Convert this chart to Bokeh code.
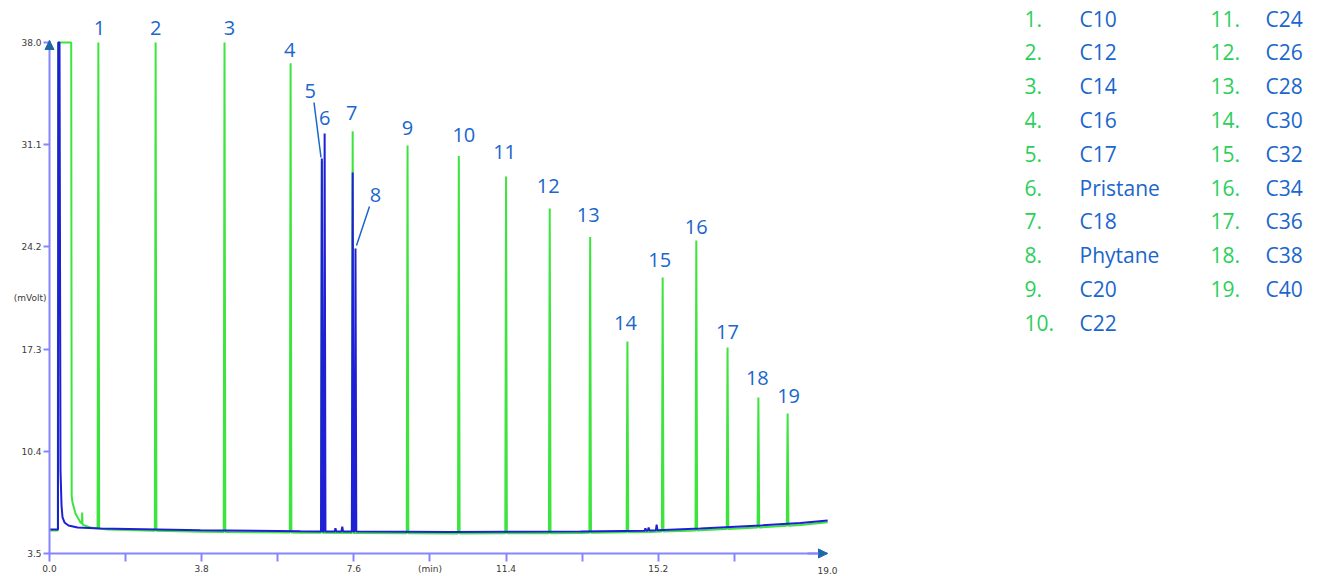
import numpy as np
from bokeh.plotting import figure
from bokeh.models import (ColumnDataSource, FixedTicker, Label, LabelSet,
                          Arrow, NormalHead, Range1d)
from bokeh.core.properties import value
from bokeh.embed import file_html
from bokeh.resources import INLINE

# ------------------------------------------------------------------ data
peak_numbers = [str(i) for i in range(1, 20)]
compound_names = ["C10", "C12", "C14", "C16", "C17", "Pristane", "C18", "Phytane",
                  "C20", "C22", "C24", "C26", "C28", "C30", "C32", "C34", "C36",
                  "C38", "C40"]

x_ticks = [0, 1.9, 3.8, 5.7, 7.6, 9.5, 11.4, 13.3, 15.2, 17.1]
x_tick_labels = ["0.0", "", "3.8", "", "7.6", "(min)", "11.4", "", "15.2", ""]
x_end_label = "19.0"
y_ticks = [3.5, 10.4, 17.3, 24.2, 31.1, 38.0]
y_tick_labels = ["3.5", "10.4", "17.3", "24.2", "31.1", "38.0"]
y_title = "(mVolt)"

# green trace: n-alkane standard
std_solvent_time = [0.0, 0.207, 0.215, 0.542, 0.554, 0.574, 0.649, 0.774, 0.81, 0.816, 0.824, 1.02]
std_solvent_signal = [5.05, 5.05, 38.0, 38.0, 7.41, 6.94, 6.20, 5.59, 5.52, 6.26, 5.45, 5.25]
std_base_time = [1.45, 3.77, 6.27, 10.0, 13.26, 15.0, 16.25, 17.75, 18.75, 19.43]
std_base_signal = [5.12, 4.97, 4.90, 4.85, 4.88, 4.95, 5.06, 5.26, 5.42, 5.60]
std_peak_no = [1, 2, 3, 4, 5, 7, 9, 10, 11, 12, 13, 14, 15, 16, 17, 18, 19]
std_peak_time = [1.22, 2.65, 4.37, 6.02, 6.80, 7.57, 8.94, 10.22, 11.40, 12.49,
                 13.50, 14.43, 15.31, 16.15, 16.93, 17.70, 18.43]
std_peak_height = [38.0, 38.0, 38.0, 36.6, 30.0, 32.0, 31.05, 30.33, 28.96, 26.79,
                   24.87, 17.81, 22.13, 24.63, 17.41, 14.03, 12.95]
std_peak_base = [5.19, 5.04, 4.95, 4.91, 4.89, 4.88, 4.86, 4.85, 4.86, 4.87,
                 4.89, 4.93, 4.98, 5.05, 5.15, 5.25, 5.37]

# blue trace: sample
smp_solvent_time = [0.0, 0.212, 0.22, 0.25, 0.275, 0.30, 0.325, 0.375, 0.474, 0.70, 1.27]
smp_solvent_signal = [5.12, 5.12, 38.0, 38.0, 9.1, 6.74, 5.93, 5.59, 5.39, 5.25, 5.18]
smp_base_time = [3.77, 6.27, 10.0, 13.26, 15.0, 16.25, 17.75, 18.75, 19.43]
smp_base_signal = [5.07, 5.00, 4.95, 4.98, 5.05, 5.18, 5.39, 5.56, 5.72]
smp_peak_no = [5, 6, 7, 8]
smp_peak_time = [6.80, 6.87, 7.57, 7.64]
smp_peak_height = [30.17, 31.86, 29.22, 24.09]
smp_peak_base = [4.99, 4.99, 4.98, 4.98]
smp_minor_time = [7.14, 7.31, 14.88, 14.96, 15.16]
smp_minor_height = [5.2, 5.3, 5.2, 5.25, 5.45]
smp_minor_base = [4.98, 4.98, 5.04, 5.05, 5.06]

# ------------------------------------------------------------------ layout / style
W, H = 1320, 576
PX_X0, PX_Y38 = 49.0, 42.0          # pixel of t=0 and of 38.0 mV
SX, SY = 40.05, 14.81                # pixels per minute / per mV
AX_X_END = (827 - PX_X0) / SX        # arrow tip of time axis
AX_Y_END = 38.0 + 2 / SY             # arrow tip of signal axis

GREEN = "#3de43d"
BLUE = "#1f1fd6"
BLUE_HALO = "#6a6af0"
AXIS = "#8585ff"
ARROW = "#1d68a8"
LBL_BLUE = "#1a66cc"
LEG_GREEN = "#2bcf5c"
TICK_TXT = "#3a3a3a"
FONT = "Open Sans"


def px_x(px):
    return (px - PX_X0) / SX


def px_y(py):
    return 38.0 - (py - PX_Y38) / SY


def build_trace(st, sv, bt, bv, pts_t, pts_h, pts_b, hw=0.02):
    pts = list(zip(st, sv)) + list(zip(bt, bv))
    for t, h, b in zip(pts_t, pts_h, pts_b):
        pts += [(t - hw, b), (t, h), (t + hw, b)]
    pts.sort(key=lambda q: q[0])
    return [q[0] for q in pts], [q[1] for q in pts]


gx, gy = build_trace(std_solvent_time, std_solvent_signal, std_base_time, std_base_signal,
                     std_peak_time, std_peak_height, std_peak_base)
bx, by = build_trace(smp_solvent_time, smp_solvent_signal, smp_base_time, smp_base_signal,
                     smp_peak_time + smp_minor_time, smp_peak_height + smp_minor_height,
                     smp_peak_base + smp_minor_base)

p = figure(width=W, height=H,
           x_range=Range1d(px_x(0), px_x(W)), y_range=Range1d(px_y(H), px_y(0)),
           output_backend="svg", toolbar_location=None, min_border=0)
p.outline_line_color = None
p.grid.visible = False
p.background_fill_color = "white"

xa = p.xaxis[0]
xa.fixed_location = 3.5
xa.bounds = (0, AX_X_END)
xa.ticker = FixedTicker(ticks=x_ticks)
xa.major_label_overrides = dict(zip(x_ticks, x_tick_labels))
ya = p.yaxis[0]
ya.fixed_location = 0
ya.bounds = (3.5, AX_Y_END)
ya.ticker = FixedTicker(ticks=y_ticks)
ya.major_label_overrides = dict(zip(y_ticks, y_tick_labels))
for ax, tout, stand in ((xa, 8, 3), (ya, 6, 2)):
    ax.axis_line_color = AXIS
    ax.axis_line_width = 2
    ax.major_tick_line_color = AXIS
    ax.major_tick_line_width = 2
    ax.major_tick_in = 0
    ax.major_tick_out = tout
    ax.minor_tick_line_color = None
    ax.major_label_standoff = stand
    ax.major_label_text_font = "DejaVu Sans"
    ax.major_label_text_font_size = "9px"
    ax.major_label_text_color = TICK_TXT

# axis arrows
p.add_layout(Arrow(end=NormalHead(size=9, fill_color=ARROW, line_color=ARROW, line_width=1),
                   x_start=0, y_start=AX_Y_END - 0.5, x_end=0, y_end=AX_Y_END,
                   line_color=AXIS, line_width=2))
p.add_layout(Arrow(end=NormalHead(size=9, fill_color=ARROW, line_color=ARROW, line_width=1),
                   x_start=AX_X_END - 0.5, y_start=3.5, x_end=AX_X_END, y_end=3.5,
                   line_color=AXIS, line_width=2))

p.add_layout(Label(x=AX_X_END, y=px_y(569.5), text=x_end_label, text_align="center",
                   text_baseline="middle", text_font="DejaVu Sans",
                   text_font_size="9px", text_color=TICK_TXT))
p.add_layout(Label(x=px_x(46), y=px_y(297), text=y_title, text_align="right",
                   text_baseline="middle", text_font="DejaVu Sans",
                   text_font_size="9px", text_color=TICK_TXT))

# traces
p.line(gx, gy, line_color=GREEN, line_width=2)
p.line(bx, by, line_color=BLUE, line_width=2)

# peak labels
apex = {}
for n, t, h in zip(std_peak_no, std_peak_time, std_peak_height):
    apex[n] = (t, h)
for n, t, h in zip(smp_peak_no, smp_peak_time, smp_peak_height):
    if n not in apex or h > apex[n][1]:
        apex[n] = (t, h)
# (x offset, gap above apex) in pixels
label_offsets = {1: (1, 7.5), 2: (0, 7.5), 3: (5, 7.5), 4: (-1, 6), 5: (-11.5, 60), 6: (0, 8),
                 7: (-1, 11), 8: (20, 46.5), 9: (0, 10), 10: (5, 14), 11: (-1.5, 17.5),
                 12: (-1.5, 15.5), 13: (-2, 14.5), 14: (-2, 12), 15: (-3, 11), 16: (0, 7),
                 17: (0, 8), 18: (-1, 12), 19: (1, 10)}
lx, ly, lt, ox, oy = [], [], [], [], []
for n in range(1, 20):
    t, h = apex[n]
    dx, dy = label_offsets[n]
    lx.append(t); ly.append(h); lt.append(peak_numbers[n - 1]); ox.append(dx); oy.append(dy)
lsrc = ColumnDataSource(dict(x=lx, y=ly, text=lt, xo=ox, yo=oy))
p.add_layout(LabelSet(x="x", y="y", text="text", x_offset="xo", y_offset="yo", source=lsrc,
                      text_align="center", text_baseline="alphabetic",
                      text_font=value(FONT), text_font_size="20px", text_color=LBL_BLUE))

# leader lines for labels 5 and 8
p.segment(x0=[px_x(313.5), px_x(369)], y0=[px_y(102), px_y(206)],
          x1=[px_x(320.5), px_x(356)], y1=[px_y(157), px_y(245)],
          line_color=LBL_BLUE, line_width=1.5)

# legend
for i, (num, name) in enumerate(zip(peak_numbers, compound_names)):
    col, row = divmod(i, 10)
    mid_px = 18 + row * 33.8
    p.add_layout(Label(x=px_x(1024 + col * 186), y=px_y(mid_px), text=f"{num}.",
                       text_align="left", text_baseline="middle",
                       text_font=FONT, text_font_size="21px", text_color=LEG_GREEN))
    p.add_layout(Label(x=px_x(1079 + col * 186), y=px_y(mid_px), text=name,
                       text_align="left", text_baseline="middle",
                       text_font=FONT, text_font_size="21px", text_color=LBL_BLUE))

open("out.html", "w").write(file_html(p, INLINE))
